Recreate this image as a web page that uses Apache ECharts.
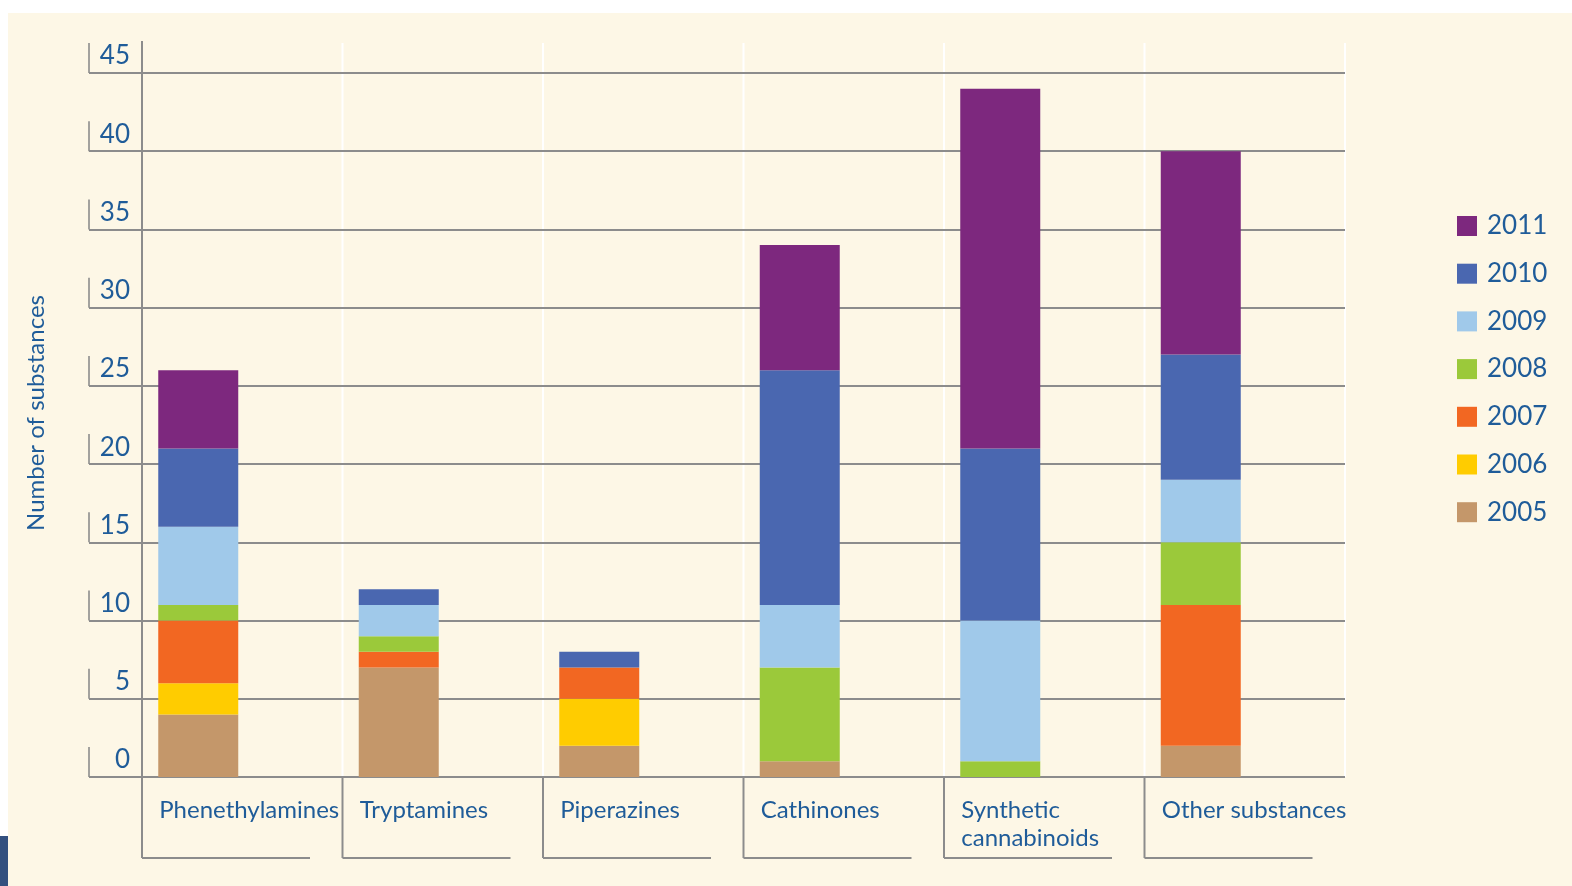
<!DOCTYPE html>
<html>
<head>
<meta charset="utf-8">
<script src="https://cdn.jsdelivr.net/npm/echarts@6/dist/echarts.min.js"></script>
<style>
  html, body { margin: 0; padding: 0; background: #ffffff; }
  #bg { position: absolute; left: 8px; top: 13px; width: 1564px; height: 873px; background: #fdf7e6; }
  #corner { position: absolute; left: 0; top: 836px; width: 8px; height: 50px; background: #33507f; }
  #chart { position: absolute; left: 0; top: 0; width: 1572px; height: 886px; }
</style>
</head>
<body>
<div id="bg"></div>
<div id="corner"></div>
<div id="chart"></div>
<script>
const categories = ['Phenethylamines', 'Tryptamines', 'Piperazines', 'Cathinones', 'Synthetic\ncannabinoids', 'Other substances'];
const years = ['2005', '2006', '2007', '2008', '2009', '2010', '2011'];
const s2005 = [4, 7, 2, 1, 0, 2];
const s2006 = [2, 0, 3, 0, 0, 0];
const s2007 = [4, 1, 2, 0, 0, 9];
const s2008 = [1, 1, 0, 6, 1, 4];
const s2009 = [5, 2, 0, 4, 9, 4];
const s2010 = [5, 1, 1, 15, 11, 8];
const s2011 = [5, 0, 0, 8, 23, 13];
const yTicks = [0, 5, 10, 15, 20, 25, 30, 35, 40, 45];
const yearColors = ['#c4976a', '#ffcc00', '#f26722', '#9bc93a', '#a0c9ea', '#4a67b0', '#7d287e'];

const seriesValues = [s2005, s2006, s2007, s2008, s2009, s2010, s2011];
const textColor = '#1f5c99';
const gridColor = '#8c8c8c';
const fontFamily = 'Lato, "Noto Sans", sans-serif';

const chart = echarts.init(document.getElementById('chart'));

const barSeries = years.map((y, k) => ({
  name: y,
  type: 'bar',
  stack: 'total',
  xAxisIndex: 1,
  yAxisIndex: 1,
  barWidth: 80,
  barGap: '10%',
  itemStyle: { color: yearColors[k] },
  data: seriesValues[k],
  z: 3
}));

const decorSeries = {
  type: 'custom',
  xAxisIndex: 1, yAxisIndex: 1,
  silent: true, clip: false, z: 0,
  data: categories.map((c, i) => [i, 0]),
  encode: { x: 0, y: 1 },
  renderItem: (params, api) => {
    const i = api.value(0);
    const base = api.coord([i, 0]);
    const bw = api.size([1, 0])[0];
    const top = api.coord([i, 45])[1];
    const left = base[0] - bw / 2;
    const right = base[0] + bw / 2;
    return {
      type: 'group',
      children: [
        { type: 'line', shape: { x1: right, y1: top - 30, x2: right, y2: base[1] }, style: { stroke: '#ffffff', lineWidth: 2 } },
        { type: 'line', shape: { x1: left, y1: i === 0 ? top - 32 : base[1], x2: left, y2: base[1] + 81 }, style: { stroke: gridColor, lineWidth: 2 } },
        { type: 'line', shape: { x1: left, y1: base[1] + 81, x2: left + 168, y2: base[1] + 81 }, style: { stroke: gridColor, lineWidth: 2 } }
      ]
    };
  }
};

const tickSeries = {
  type: 'scatter',
  xAxisIndex: 0, yAxisIndex: 0,
  silent: true, z: 1,
  symbol: 'rect', symbolSize: [2, 30], symbolOffset: [0, -15],
  itemStyle: { color: gridColor },
  data: yTicks.map(v => [0, v])
};

const padSeries = {
  type: 'bar', name: 'pad', stack: 'pad',
  xAxisIndex: 1, yAxisIndex: 1,
  barWidth: 80, barGap: '10%',
  data: []
};

const option = {
  backgroundColor: 'transparent',
  animation: false,
  textStyle: { fontFamily: fontFamily },
  grid: [
    { left: 89, right: 227, top: 73, bottom: 109 },
    { left: 142, right: 227, top: 73, bottom: 109 }
  ],
  legend: {
    orient: 'vertical',
    left: 1452,
    top: 208,
    itemWidth: 20,
    itemHeight: 20,
    itemGap: 21.7,
    icon: 'rect',
    data: years.slice().reverse(),
    textStyle: { color: textColor, fontSize: 26, lineHeight: 26, fontFamily: fontFamily, padding: [0, 0, 0, 5] }
  },
  xAxis: [
    { gridIndex: 0, type: 'value', min: 0, max: 1, show: false },
    {
      gridIndex: 1, type: 'category', data: categories,
      axisLine: { show: false }, axisTick: { show: false }, splitLine: { show: false },
      axisLabel: {
        margin: 19,
        formatter: v => '{a|' + v.split('\n').join('}\n{a|') + '}',
        rich: { a: { width: 166, align: 'left', color: textColor, fontSize: 24, lineHeight: 28, fontFamily: fontFamily } }
      },
      z: 1
    }
  ],
  yAxis: [
    {
      gridIndex: 0, type: 'value', min: 0, max: 45, interval: 5,
      axisLine: { show: false }, axisTick: { show: false }, axisLabel: { show: false },
      splitLine: { show: true, lineStyle: { color: gridColor, width: 2 } },
      z: 1
    },
    {
      gridIndex: 1, type: 'value', min: 0, max: 45, interval: 5,
      name: 'Number of substances', nameLocation: 'middle', nameGap: 94,
      nameTextStyle: { color: textColor, fontSize: 24, fontFamily: fontFamily, padding: [0, 0, 0, 24] },
      axisLine: { show: false }, axisTick: { show: false }, splitLine: { show: false },
      axisLabel: { margin: 12, color: textColor, fontSize: 26, verticalAlign: 'bottom', padding: [0, 0, 4, 0], fontFamily: fontFamily },
      z: 1
    }
  ],
  series: [decorSeries, tickSeries, ...barSeries, padSeries]
};
chart.setOption(option);
</script>
</body>
</html>
